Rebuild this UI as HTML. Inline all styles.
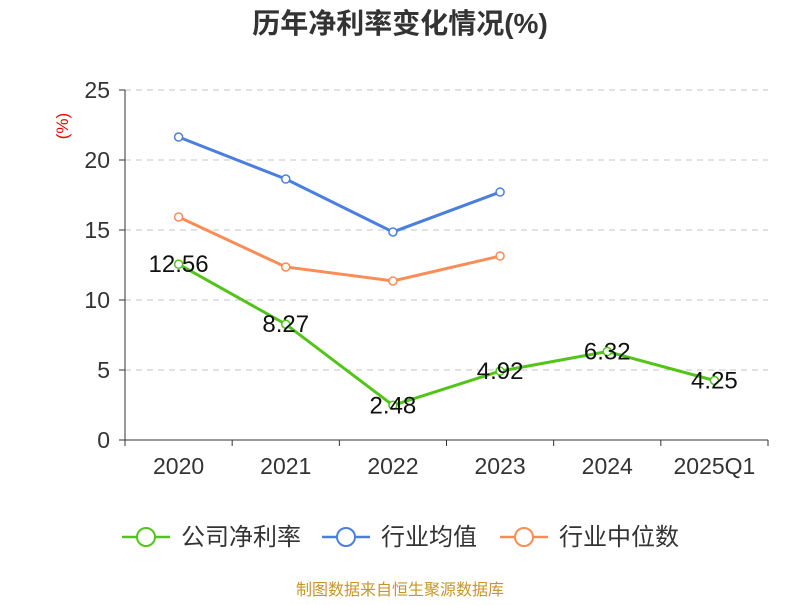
<!DOCTYPE html>
<html><head><meta charset="utf-8"><style>
body{margin:0;background:#fff;}
svg text{font-family:"Liberation Sans","Noto Sans CJK SC",sans-serif;}
</style></head><body>
<svg id="chart" width="800" height="600" xmlns="http://www.w3.org/2000/svg">
<text x="400" y="33" text-anchor="middle" font-size="28" font-weight="bold" fill="#333">历年净利率变化情况(%)</text>
<text x="68" y="126" text-anchor="middle" font-size="17" fill="#e00" transform="rotate(-90 68 126)">(%)</text>
<g id="grid"></g><g id="axes"></g><g id="series"></g>
<g>
<g><line x1="122" y1="537" x2="170" y2="537" stroke="#52c41a" stroke-width="2.5"/><circle cx="146" cy="537" r="9" fill="#fff" stroke="#52c41a" stroke-width="2"/><text x="181" y="545" font-size="24" fill="#333">公司净利率</text></g>
<g><line x1="322" y1="537" x2="370" y2="537" stroke="#4a7fe0" stroke-width="2.5"/><circle cx="346" cy="537" r="9" fill="#fff" stroke="#4a7fe0" stroke-width="2"/><text x="381" y="545" font-size="24" fill="#333">行业均值</text></g>
<g><line x1="500" y1="537" x2="548" y2="537" stroke="#fa8c55" stroke-width="2.5"/><circle cx="524" cy="537" r="9" fill="#fff" stroke="#fa8c55" stroke-width="2"/><text x="559" y="545" font-size="24" fill="#333">行业中位数</text></g>
</g>
<text x="400" y="595" text-anchor="middle" font-size="16" fill="#c8952a">制图数据来自恒生聚源数据库</text>
</svg>
<script>
const categories=["2020","2021","2022","2023","2024","2025Q1"];
const companyValues=[12.56,8.27,2.48,4.92,6.32,4.25];
const industryAvg=[21.64,18.64,14.86,17.71,null,null];
const industryMedian=[15.93,12.36,11.36,13.14,null,null];
const yTicks=[0,5,10,15,20,25];
const NS="http://www.w3.org/2000/svg";
const x0=125,x1=768,yb=440,yt=90,ymax=25;
const bw=(x1-x0)/categories.length;
const xs=i=>x0+bw*(i+0.5);
const ys=v=>yb-(v/ymax)*(yb-yt);
function mk(t,a,p){const e=document.createElementNS(NS,t);for(const k in a)e.setAttribute(k,a[k]);p.appendChild(e);return e;}
const grid=document.getElementById('grid'),axes=document.getElementById('axes'),ser=document.getElementById('series');
yTicks.forEach(v=>{
 if(v>0){const g=mk('line',{x1:x0,x2:x1,y1:ys(v),y2:ys(v),stroke:'#c4c4c4','stroke-dasharray':'6,5'},grid);
 
 }
 mk('line',{x1:x0-6,x2:x0,y1:ys(v),y2:ys(v),stroke:'#333'},axes);
 const t=mk('text',{x:x0-15,y:ys(v)+8,'text-anchor':'end','font-size':23,fill:'#333'},axes);t.textContent=v;
 
 
});
mk('line',{x1:x0,x2:x0,y1:yt,y2:yb,stroke:'#333'},axes);
mk('line',{x1:x0,x2:x1,y1:yb,y2:yb,stroke:'#333'},axes);
for(let i=0;i<=categories.length;i++)mk('line',{x1:x0+bw*i,x2:x0+bw*i,y1:yb,y2:yb+6,stroke:'#333'},axes);
categories.forEach((c,i)=>{const t=mk('text',{x:xs(i),y:yb+34,'text-anchor':'middle','font-size':23,fill:'#333'},axes);t.textContent=c;
 
 });
function line(vals,color,name,labels){
 const pts=[];vals.forEach((v,i)=>{if(v!=null)pts.push([xs(i),ys(v),v]);});
 const p=mk('polyline',{points:pts.map(q=>q[0]+','+q[1]).join(' '),fill:'none',stroke:color,'stroke-width':3},ser);
 
 
 pts.forEach(q=>{const c=mk('circle',{cx:q[0],cy:q[1],r:4,fill:'#fff',stroke:color,'stroke-width':1.5},ser);
  
  
  if(labels){const t=mk('text',{x:q[0],y:q[1]+8,'text-anchor':'middle','font-size':24,fill:'#111'},ser);t.textContent=q[2].toFixed(2);
   
   }
 });
}
line(industryAvg,'#4a7fe0','industry-avg',false);
line(industryMedian,'#fa8c55','industry-median',false);
line(companyValues,'#52c41a','company-net-margin',true);
</script>
</body></html>
